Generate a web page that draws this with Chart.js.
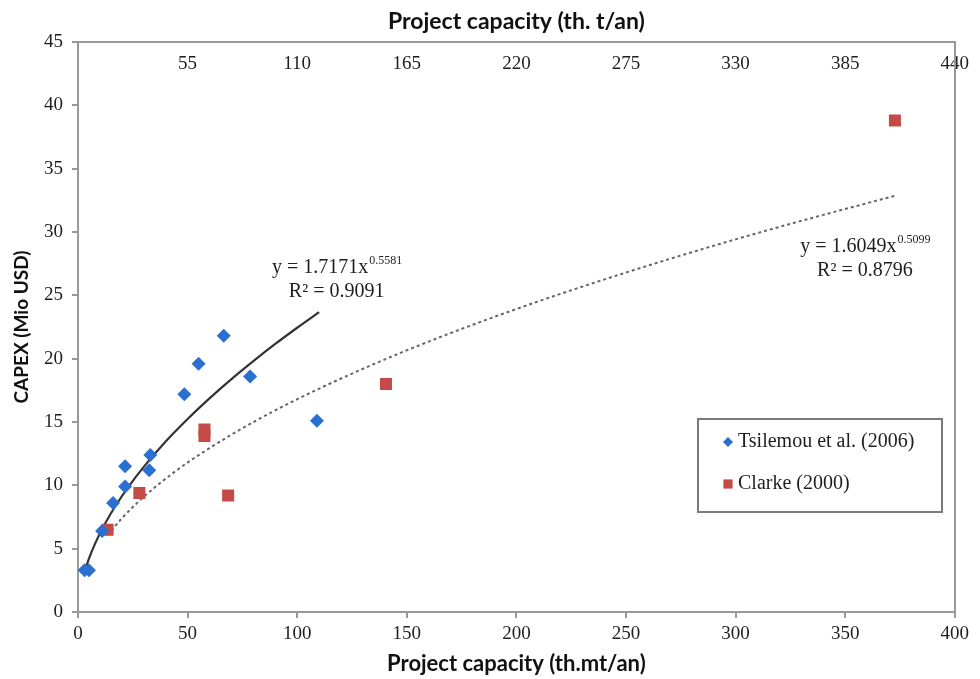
<!DOCTYPE html>
<html>
<head>
<meta charset="utf-8">
<title>CAPEX vs project capacity</title>
<script src="https://cdn.jsdelivr.net/npm/chart.js@4.4.1/dist/chart.umd.min.js"></script>
<style>
  html, body { margin: 0; padding: 0; background: #fff; }
  #wrap { width: 980px; height: 679px; position: relative; }
</style>
</head>
<body>
<div id="wrap"><canvas id="capexChart" width="980" height="679"></canvas></div>
<script>
    // --- DATA ---
    const tsilemouX = [3, 5, 11, 16, 21.5, 21.5, 32.5, 33, 48.5, 55, 66.5, 78.5, 109];
    const tsilemouY = [3.3, 3.3, 6.4, 8.6, 9.9, 11.5, 11.2, 12.4, 17.2, 19.6, 21.8, 18.6, 15.1];

    const clarkeX = [13.5, 28, 57.7, 57.7, 68.5, 140.5, 372.7];
    const clarkeY = [6.5, 9.4, 14.4, 13.9, 9.2, 18.0, 38.8];

    // Trend curves, points
    const fitTsX = [3, 5, 8, 12, 17, 23, 30, 40, 50, 60, 70, 80, 90, 100, 110];
    const fitTsY = [3.17, 4.22, 5.48, 6.87, 8.35, 9.88, 11.46, 13.46, 15.24, 16.87, 18.39, 19.81, 21.16, 22.44, 23.67];
    const fitClX = [13.5, 20, 30, 45, 60, 80, 100, 130, 160, 200, 250, 300, 340, 373];
    const fitClY = [6.05, 7.39, 9.09, 11.18, 12.94, 14.99, 16.80, 19.20, 21.35, 23.92, 26.80, 29.42, 31.35, 32.87];

    // Tick labels
    const topTicks = [55, 110, 165, 220, 275, 330, 385, 440];

    // Trend equations (anchor in data units)
    const eqText = [
        { x: 118, y: 27.2, base: 'y = 1.7171x', sup: '0.5581', r2: 'R\u00B2 = 0.9091' },
        { x: 359, y: 28.8, base: 'y = 1.6049x', sup: '0.5099', r2: 'R\u00B2 = 0.8796' }
    ];

    const legendItems = ['Tsilemou et al. (2006)', 'Clarke (2000)'];

    const BLUE = '#2b6fd0';
    const RED = '#c44a45';
    const TXT = '#1e1e1e';
    const SERIF = '"Liberation Serif", "DejaVu Serif", serif';
    const SANS = 'Lato, "Liberation Sans", sans-serif';

    function toPoints(xs, ys) {
        return xs.map((x, i) => ({ x: x, y: ys[i] }));
    }

    // --- PLUGINS ---
    const equationPlugin = {
        id: 'equations',
        afterDatasetsDraw(chart) {
            const ctx = chart.ctx;
            const xs = chart.scales.x, ys = chart.scales.y;
            ctx.save();
            ctx.fillStyle = TXT;
            ctx.textBaseline = 'middle';
            ctx.textAlign = 'left';
            eqText.forEach(eq => {
                const cx = xs.getPixelForValue(eq.x);
                const cy = ys.getPixelForValue(eq.y);
                ctx.font = '20px ' + SERIF;
                const w1 = ctx.measureText(eq.base).width;
                ctx.font = '12px ' + SERIF;
                const w2 = ctx.measureText(eq.sup).width;
                const left = cx - (w1 + w2) / 2;
                ctx.font = '20px ' + SERIF;
                ctx.fillText(eq.base, left, cy);
                ctx.font = '12px ' + SERIF;
                ctx.fillText(eq.sup, left + w1 + 1, cy - 7);
                ctx.font = '20px ' + SERIF;
                const w3 = ctx.measureText(eq.r2).width;
                ctx.fillText(eq.r2, cx - w3 / 2, cy + 24);
            });
            ctx.restore();
        }
    };

    const legendBoxPlugin = {
        id: 'legendBox',
        afterDraw(chart) {
            const ctx = chart.ctx;
            const bx = 698, by = 419, bw = 244, bh = 93;
            ctx.save();
            ctx.fillStyle = '#fff';
            ctx.strokeStyle = '#7a7a7a';
            ctx.lineWidth = 2;
            ctx.fillRect(bx, by, bw, bh);
            ctx.strokeRect(bx, by, bw, bh);
            ctx.font = '20px ' + SERIF;
            ctx.textBaseline = 'middle';
            legendItems.forEach((label, i) => {
                const ds = chart.data.datasets[i];
                const y = by + 23 + i * 42;
                ctx.fillStyle = ds.backgroundColor;
                ctx.strokeStyle = ds.backgroundColor;
                Chart.helpers.drawPoint(ctx, {
                    pointStyle: ds.pointStyle,
                    radius: i === 0 ? 5 : 6.5,
                    borderWidth: 0
                }, bx + 30, y);
                ctx.fillStyle = TXT;
                ctx.fillText(label, bx + 40, y);
            });
            ctx.restore();
        }
    };

    // --- CHART ---
    const ctx = document.getElementById('capexChart').getContext('2d');
    const chart = new Chart(ctx, {
        type: 'scatter',
        data: {
            datasets: [
                {
                    label: legendItems[0],
                    data: toPoints(tsilemouX, tsilemouY),
                    pointStyle: 'rectRot',
                    pointRadius: 7,
                    backgroundColor: BLUE,
                    borderColor: BLUE,
                    borderWidth: 0,
                    order: 1
                },
                {
                    label: legendItems[1],
                    data: toPoints(clarkeX, clarkeY),
                    pointStyle: 'rect',
                    pointRadius: 8.5,
                    backgroundColor: RED,
                    borderColor: RED,
                    borderWidth: 0,
                    order: 1
                },
                {
                    type: 'line',
                    label: 'fit Tsilemou',
                    data: toPoints(fitTsX, fitTsY),
                    borderColor: '#333',
                    borderWidth: 2.2,
                    pointRadius: 0,
                    cubicInterpolationMode: 'monotone',
                    fill: false,
                    order: 2
                },
                {
                    type: 'line',
                    label: 'fit Clarke',
                    data: toPoints(fitClX, fitClY),
                    borderColor: '#666',
                    borderWidth: 2,
                    borderDash: [3, 3],
                    pointRadius: 0,
                    cubicInterpolationMode: 'monotone',
                    fill: false,
                    order: 2
                }
            ]
        },
        options: {
            responsive: false,
            animation: false,
            devicePixelRatio: 1,
            layout: { padding: { left: 0, right: 22, top: 0, bottom: 0 } },
            plugins: {
                legend: { display: false },
                tooltip: { enabled: false }
            },
            scales: {
                x: {
                    type: 'linear',
                    position: 'bottom',
                    min: 0, max: 400,
                    afterFit: s => { s.height = 67; },
                    ticks: {
                        stepSize: 50,
                        color: TXT,
                        padding: 5,
                        maxRotation: 0,
                        font: { family: SERIF, size: 19 }
                    },
                    grid: { drawOnChartArea: false, drawTicks: true, tickLength: 6, color: '#999', lineWidth: 2 },
                    border: { color: '#999', width: 2 },
                    title: {
                        display: true,
                        text: 'Project capacity (th.mt/an)',
                        color: '#111',
                        padding: { top: 0, bottom: 2 },
                        font: { family: SANS, size: 22, weight: 'bold' }
                    }
                },
                x2: {
                    type: 'linear',
                    position: 'top',
                    min: 0, max: 440,
                    afterFit: s => { s.height = 42; },
                    afterBuildTicks: s => { s.ticks = topTicks.map(v => ({ value: v })); },
                    ticks: {
                        mirror: true,
                        padding: 11,
                        color: TXT,
                        maxRotation: 0,
                        autoSkip: false,
                        font: { family: SERIF, size: 19 }
                    },
                    grid: { drawOnChartArea: false, drawTicks: false },
                    border: { color: '#999', width: 2 },
                    title: {
                        display: true,
                        text: 'Project capacity (th. t/an)',
                        color: '#111',
                        padding: { top: 8, bottom: 0 },
                        font: { family: SANS, size: 23, weight: 'bold' }
                    }
                },
                y: {
                    type: 'linear',
                    position: 'left',
                    min: 0, max: 45,
                    afterFit: s => { s.width = 78; },
                    ticks: {
                        stepSize: 5,
                        color: TXT,
                        padding: 9,
                        font: { family: SERIF, size: 19 }
                    },
                    grid: { drawOnChartArea: false, drawTicks: true, tickLength: 6, color: '#999', lineWidth: 2 },
                    border: { color: '#999', width: 2 },
                    title: {
                        display: true,
                        text: 'CAPEX (Mio USD)',
                        color: '#111',
                        padding: { top: 10, bottom: 0 },
                        font: { family: SANS, size: 19, weight: 'bold' }
                    }
                },
                y2: {
                    type: 'linear',
                    position: 'right',
                    min: 0, max: 45,
                    afterFit: s => { s.width = 0; },
                    ticks: { display: false },
                    grid: { drawOnChartArea: false, drawTicks: false },
                    border: { color: '#999', width: 2 }
                }
            }
        },
        plugins: [equationPlugin, legendBoxPlugin]
    });
</script>
</body>
</html>
